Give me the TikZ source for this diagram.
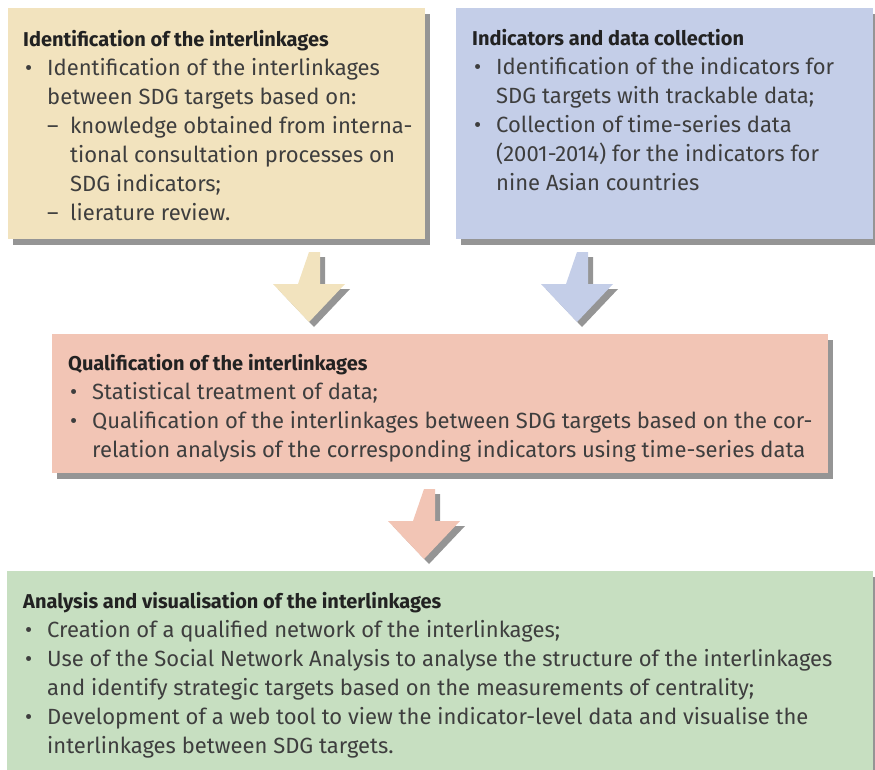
\documentclass[tikz,border=0pt]{standalone}
\usepackage{fontspec}
\setmainfont{Fira Sans}
\usetikzlibrary{shadows}

\definecolor{identfill}{HTML}{F2E3BE}
\definecolor{datafill}{HTML}{C4CEE8}
\definecolor{qualfill}{HTML}{F2C5B5}
\definecolor{analysisfill}{HTML}{C7DFC1}
\definecolor{shadowgray}{HTML}{959595}
\definecolor{textgray}{HTML}{3E3E3E}
\definecolor{titlegray}{HTML}{222222}

\newcommand{\sdgtitle}[1]{{\fontsize{20}{29}\selectfont\bfseries\color{titlegray}#1}}
\newcommand{\sdgbullet}{\makebox[24pt][l]{\hspace{2pt}\textbullet}}
\newcommand{\sdgindent}{\hspace*{24pt}}
\newcommand{\sdgdash}{\hspace*{24pt}\makebox[23pt][l]{--}}
\newcommand{\sdgsubindent}{\hspace*{47pt}}

\begin{document}
\begin{tikzpicture}[
  x=1pt,
  y=-1pt,
  every node/.style={font=\fontsize{22}{29}\selectfont, text=textgray},
  panel/.style={rectangle, anchor=north west, inner sep=0pt,
    drop shadow={shadow xshift=5pt, shadow yshift=-6pt, fill=shadowgray, opacity=1}},
  body/.style={anchor=base west, inner sep=0pt, align=left},
  pics/blockarrow/.style={code={
    \fill[shadowgray] (5,5) -- ++(11,0) -- ++(0,32) -- ++(25,0) -- ++(-36,38)
      -- ++(-36,-38) -- ++(25,0) -- cycle;
    \fill[#1] (0,0) -- ++(11,0) -- ++(0,32) -- ++(25,0) -- ++(-36,38)
      -- ++(-36,-38) -- ++(25,0) -- cycle;
  }}
]
\useasboundingbox (0,0) rectangle (875,769);

% panels
\node[panel, fill=identfill, minimum width=417pt, minimum height=231pt] (ident) at (8,8) {};
\node[panel, fill=datafill, minimum width=417pt, minimum height=231pt] (data) at (456,8) {};
\node[panel, fill=qualfill, minimum width=776pt, minimum height=139pt] (qual) at (52,334) {};
\node[panel, fill=analysisfill, minimum width=866pt, minimum height=210pt] (analysis) at (7,571) {};

% arrows between the stages
\coordinate (identout) at (309,252);
\coordinate (dataout) at (577,252);
\coordinate (qualout) at (424,489);
\pic at (identout) {blockarrow=identfill};
\pic at (dataout) {blockarrow=datafill};
\pic at (qualout) {blockarrow=qualfill};

% texts (base = last line)
\node[body] (identtxt) at (23,220) {\sdgtitle{Identification of the interlinkages}\\
  \sdgbullet Identification of the interlinkages\\
  \sdgindent between SDG targets based on:\\
  \sdgdash knowledge obtained from interna-\\
  \sdgsubindent tional consultation processes on\\
  \sdgsubindent SDG indicators;\\
  \sdgdash lierature review.};
\node[body] (datatxt) at (472,190) {\sdgtitle{Indicators and data collection}\\
  \sdgbullet Identification of the indicators for\\
  \sdgindent SDG targets with trackable data;\\
  \sdgbullet Collection of time-series data\\
  \sdgindent (2001-2014) for the indicators for\\
  \sdgindent nine Asian countries};
\node[body] (qualtxt) at (68,457) {\sdgtitle{Qualification of the interlinkages}\\
  \sdgbullet Statistical treatment of data;\\
  \sdgbullet Qualification of the interlinkages between SDG targets based on the cor-\\
  \sdgindent relation analysis of the corresponding indicators using time-series data};
\node[body] (analysistxt) at (23,753) {\sdgtitle{Analysis and visualisation of the interlinkages}\\
  \sdgbullet Creation of a qualified network of the interlinkages;\\
  \sdgbullet Use of the Social Network Analysis to analyse the structure of the interlinkages\\
  \sdgindent and identify strategic targets based on the measurements of centrality;\\
  \sdgbullet Development of a web tool to view the indicator-level data and visualise the\\
  \sdgindent interlinkages between SDG targets.};
\end{tikzpicture}
\end{document}
